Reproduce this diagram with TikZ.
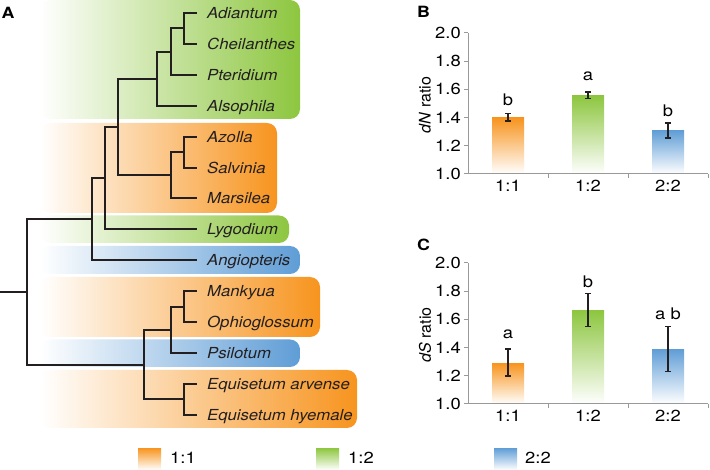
\documentclass[tikz,border=0pt]{standalone}
\usepackage{fontspec}
\setmainfont{TeX Gyre Heros}
\newfontfamily\treefont[FakeStretch=1.1]{TeX Gyre Heros}
\newfontfamily\chartfont[FakeStretch=1.15]{TeX Gyre Heros}
\definecolor{cor}{HTML}{F7941E}
\definecolor{cgr}{HTML}{8DC63F}
\definecolor{cbl}{HTML}{5F9DD6}
\definecolor{ink}{HTML}{231F20}
\begin{document}
\begin{tikzpicture}[x=1pt,y=-1pt,
  band/.style={rounded corners=10pt},
  branch/.style={line width=2pt, draw=ink},
  taxon/.style={anchor=base west, inner sep=0pt, text=ink, font=\treefont\itshape\fontsize{15.2}{15}\selectfont},
  panellab/.style={anchor=base west, inner sep=0pt, font=\chartfont\bfseries\fontsize{15.5}{15.5}\selectfont},
  ticklab/.style={inner sep=0pt, font=\chartfont\fontsize{16}{16}\selectfont},
  axisline/.style={draw=black!40, line width=1pt},
  errbar/.style={draw=ink, line width=1.5pt},
  ylab/.style={rotate=90, inner sep=0pt, font=\fontsize{16}{16}\selectfont}
]
\useasboundingbox (0,0) rectangle (710,470);

% ---------- coloured bands ----------
\shade[band, left color=white, right color=cgr] (40,0) rectangle (300,119);
\shade[band, left color=white, right color=cor] (40,123) rectangle (277,213);
\shade[band, left color=white, right color=cgr] (40,215.5) rectangle (289,243);
\shade[band, left color=white, right color=cbl] (40,246) rectangle (300,274);
\shade[band, left color=white, right color=cor] (40,277) rectangle (320,337);
\shade[band, left color=white, right color=cbl] (40,339.5) rectangle (300,367);
\shade[band, left color=white, right color=cor] (40,370) rectangle (357,428);

% ---------- panel label ----------
\node[panellab] (labA) at (1.5,18.3) {A};

% ---------- taxa ----------
\node[taxon] (L0)  at (207,18.5)  {Adiantum};
\node[taxon] (L1)  at (207,49.4)  {Cheilanthes};
\node[taxon] (L2)  at (207,80.3)  {Pteridium};
\node[taxon] (L3)  at (207,111.3) {Alsophila};
\node[taxon] (L4)  at (207,142.2) {Azolla};
\node[taxon] (L5)  at (207,173.1) {Salvinia};
\node[taxon] (L6)  at (207,204.0) {Marsilea};
\node[taxon] (L7)  at (207,234.9) {Lygodium};
\node[taxon] (L8)  at (207,265.9) {Angiopteris};
\node[taxon] (L9)  at (207,296.8) {Mankyua};
\node[taxon] (L10) at (207,327.7) {Ophioglossum};
\node[taxon] (L11) at (207,358.6) {Psilotum};
\node[taxon] (L12) at (207,389.5) {Equisetum arvense};
\node[taxon] (L13) at (207,420.5) {Equisetum hyemale};

\coordinate (T0)  at (197,13.0);
\coordinate (T1)  at (197,43.9);
\coordinate (T2)  at (197,74.8);
\coordinate (T3)  at (197,105.8);
\coordinate (T4)  at (197,136.7);
\coordinate (T5)  at (197,167.6);
\coordinate (T6)  at (197,198.5);
\coordinate (T7)  at (197,229.4);
\coordinate (T8)  at (197,260.4);
\coordinate (T9)  at (197,291.3);
\coordinate (T10) at (197,322.2);
\coordinate (T11) at (197,353.1);
\coordinate (T12) at (197,384.0);
\coordinate (T13) at (197,415.0);

% internal nodes
\coordinate (n1) at (184,28.45);
\coordinate (n2) at (171,51.6);
\coordinate (n3) at (157,78.7);
\coordinate (n4) at (184,152.15);
\coordinate (n5) at (171,175.3);
\coordinate (n6) at (118,127.0);
\coordinate (n7) at (105,178.2);
\coordinate (n8) at (92,219.3);
\coordinate (m1) at (184,306.75);
\coordinate (m2) at (171,329.9);
\coordinate (m3) at (184,399.5);
\coordinate (m4) at (144,364.7);
\coordinate (root) at (27,292);
\coordinate (stem) at (0,292);

% ---------- tree ----------
\draw[branch] (T0) -| (n1) |- (T1);
\draw[branch] (n1) -| (n2) |- (T2);
\draw[branch] (n2) -| (n3) |- (T3);
\draw[branch] (T4) -| (n4) |- (T5);
\draw[branch] (n4) -| (n5) |- (T6);
\draw[branch] (n3) -| (n6) |- (n5);
\draw[branch] (n6) -| (n7) |- (T7);
\draw[branch] (n7) -| (n8) |- (T8);
\draw[branch] (T9) -| (m1) |- (T10);
\draw[branch] (m1) -| (m2) |- (T11);
\draw[branch] (T12) -| (m3) |- (T13);
\draw[branch] (m2) -| (m4) |- (m3);
\draw[branch] (n8) -| (root) |- (m4);
\draw[branch] (stem) -- (root);

% ---------- legend ----------
\shade[top color=cor, middle color=cor, bottom color=white] (138,448) rectangle (161,470);
\node[ticklab, anchor=west] (lg1) at (170,458) {1:1};
\shade[top color=cgr, middle color=cgr, bottom color=white] (316,448) rectangle (339,470);
\node[ticklab, anchor=west] (lg2) at (348,458) {1:2};
\shade[top color=cbl, middle color=cbl, bottom color=white] (494,448) rectangle (517,470);
\node[ticklab, anchor=west] (lg3) at (525,458) {2:2};

% ---------- panel B ----------
\node[panellab] (labB) at (417,18) {B};
\shade[top color=cor, middle color=cor, bottom color=white] (492,{174-141*0.40}) rectangle (524,174);
\shade[top color=cgr, middle color=cgr, bottom color=white] (572,{174-141*0.555}) rectangle (604,174);
\shade[top color=cbl, middle color=cbl, bottom color=white] (652,{174-141*0.31}) rectangle (684,174);
\draw[axisline] (468,33) -- (468,174) -- (708,174);
\foreach \v in {1.0,1.2,1.4,1.6,1.8,2.0} {
  \draw[axisline] (464,{174-141*(\v-1)}) -- (468,{174-141*(\v-1)});
  \node[ticklab, anchor=east] at (461,{174-141*(\v-1)}) {\v};
}
\foreach \x in {548,628,708} { \draw[axisline] (\x,174) -- (\x,178); }
\node[ticklab] (bx1) at (508,186) {1:1};
\node[ticklab] (bx2) at (588,186) {1:2};
\node[ticklab] (bx3) at (668,186) {2:2};
\node[ylab] (byl) at (425,105) {\textit{d}\kern-0.5pt\textit{N} ratio};
% error bars
\draw[errbar] (508,{174-141*0.375}) -- (508,{174-141*0.43});
\draw[errbar] (505,{174-141*0.375}) -- (511,{174-141*0.375});
\draw[errbar] (505,{174-141*0.43}) -- (511,{174-141*0.43});
\draw[errbar] (588,{174-141*0.535}) -- (588,{174-141*0.58});
\draw[errbar] (585,{174-141*0.535}) -- (591,{174-141*0.535});
\draw[errbar] (585,{174-141*0.58}) -- (591,{174-141*0.58});
\draw[errbar] (668,{174-141*0.255}) -- (668,{174-141*0.36});
\draw[errbar] (665,{174-141*0.255}) -- (671,{174-141*0.255});
\draw[errbar] (665,{174-141*0.36}) -- (671,{174-141*0.36});
\node[ticklab] (bl1) at (508,100) {b};
\node[ticklab] (bl2) at (588,76) {a};
\node[ticklab] (bl3) at (668,111) {b};

% ---------- panel C ----------
\node[panellab] (labC) at (417,251) {C};
\shade[top color=cor, middle color=cor, bottom color=white] (492,{404-141*0.29}) rectangle (524,404);
\shade[top color=cgr, middle color=cgr, bottom color=white] (572,{404-141*0.665}) rectangle (604,404);
\shade[top color=cbl, middle color=cbl, bottom color=white] (652,{404-141*0.39}) rectangle (684,404);
\draw[axisline] (468,263) -- (468,404) -- (708,404);
\foreach \v in {1.0,1.2,1.4,1.6,1.8,2.0} {
  \draw[axisline] (464,{404-141*(\v-1)}) -- (468,{404-141*(\v-1)});
  \node[ticklab, anchor=east] at (461,{404-141*(\v-1)}) {\v};
}
\foreach \x in {548,628,708} { \draw[axisline] (\x,404) -- (\x,408); }
\node[ticklab] (cx1) at (508,416) {1:1};
\node[ticklab] (cx2) at (588,416) {1:2};
\node[ticklab] (cx3) at (668,416) {2:2};
\node[ylab] (cyl) at (425,335) {\textit{d}\kern-0.5pt\textit{S} ratio};
\draw[errbar] (508,{404-141*0.20}) -- (508,{404-141*0.39});
\draw[errbar] (505,{404-141*0.20}) -- (511,{404-141*0.20});
\draw[errbar] (505,{404-141*0.39}) -- (511,{404-141*0.39});
\draw[errbar] (588,{404-141*0.55}) -- (588,{404-141*0.785});
\draw[errbar] (585,{404-141*0.55}) -- (591,{404-141*0.55});
\draw[errbar] (585,{404-141*0.785}) -- (591,{404-141*0.785});
\draw[errbar] (668,{404-141*0.23}) -- (668,{404-141*0.55});
\draw[errbar] (665,{404-141*0.23}) -- (671,{404-141*0.23});
\draw[errbar] (665,{404-141*0.55}) -- (671,{404-141*0.55});
\node[ticklab] (cl1) at (508,334) {a};
\node[ticklab] (cl2) at (588,282) {b};
\node[ticklab] (cl3) at (668,314) {a b};
\end{tikzpicture}
\end{document}
